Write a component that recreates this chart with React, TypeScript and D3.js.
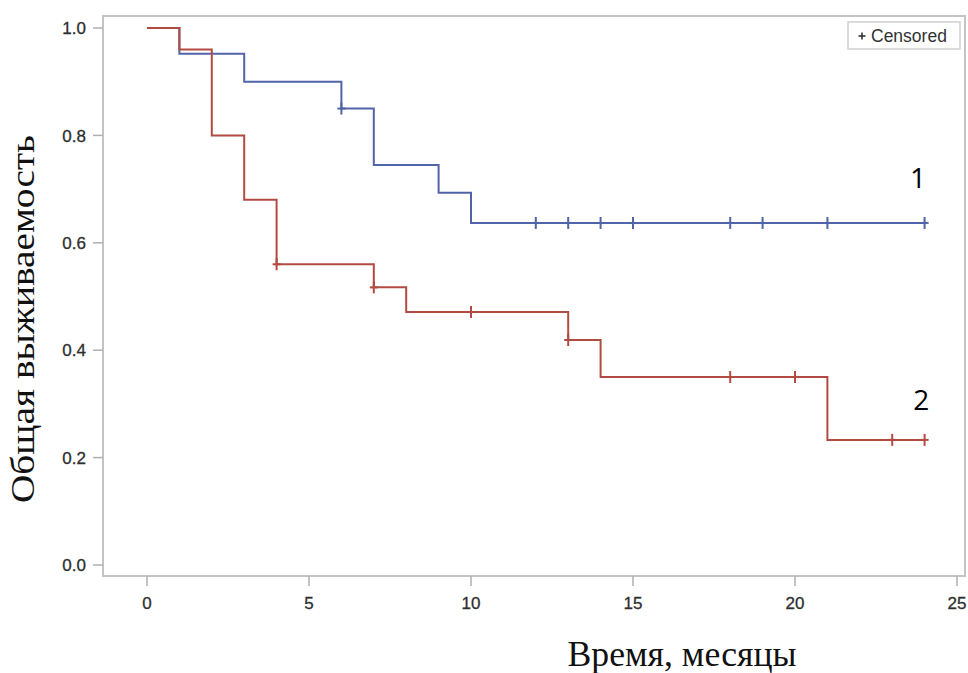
import React from 'react';
import * as d3 from 'd3';

// Kaplan-Meier step data
const blueTimes = [0, 1, 3, 6, 7, 9, 10, 24];
const blueSurv = [1, 0.952, 0.9, 0.85, 0.745, 0.693, 0.637, 0.637];
const blueCensored = [6, 12, 13, 14, 15, 18, 19, 21, 24];

const redTimes = [0, 1, 2, 3, 4, 7, 8, 13, 14, 21, 24];
const redSurv = [1, 0.96, 0.8, 0.68, 0.56, 0.517, 0.471, 0.419, 0.35, 0.233, 0.233];
const redCensored = [4, 7, 10, 13, 18, 20, 23, 24];

const xTicks = [0, 5, 10, 15, 20, 25];
const yTicks = [0, 0.2, 0.4, 0.6, 0.8, 1.0];

const groupLabels = [
  { text: '1', t: 23.8, s: 0.72 },
  { text: '2', t: 23.9, s: 0.307 },
];

const width = 968;
const height = 673;
const frame = { left: 103, top: 16, right: 965, bottom: 576 };

const BLUE = '#5264a8';
const RED = '#b24b42';

function survAt(times: number[], surv: number[], t: number) {
  let v = surv[0];
  times.forEach((tt, i) => {
    if (tt <= t) v = surv[i];
  });
  return v;
}

export default function App() {
  const x = d3.scaleLinear().domain([0, 25]).range([147, 957]);
  const y = d3.scaleLinear().domain([0, 1]).range([565, 28]);

  const line = d3
    .line<[number, number]>()
    .x((d) => x(d[0]))
    .y((d) => y(d[1]))
    .curve(d3.curveStepAfter);

  const series = [
    { times: blueTimes, surv: blueSurv, cens: blueCensored, color: BLUE },
    { times: redTimes, surv: redSurv, cens: redCensored, color: RED },
  ];

  const tickFont = '"Liberation Sans", Arial, sans-serif';
  const serif = '"Liberation Serif", "Times New Roman", serif';

  return (
    <div style={{ position: 'absolute', left: 0, top: 0 }}>
      <svg width={width} height={height} style={{ display: 'block', background: '#fff' }}>
        {/* frame */}
        <rect
          x={frame.left}
          y={frame.top}
          width={frame.right - frame.left}
          height={frame.bottom - frame.top}
          fill="none"
          stroke="#c4c4c4"
          strokeWidth={2}
        />

        {/* y axis */}
        {yTicks.map((v) => (
          <g key={'y' + v}>
            <line x1={frame.left - 10} x2={frame.left} y1={y(v)} y2={y(v)} stroke="#b0b0b0" strokeWidth={1.5} />
            <text
              x={frame.left - 17}
              y={y(v)}
              dy="0.36em"
              textAnchor="end"
              fontFamily={tickFont}
              fontSize={17}
              stroke="#2e2e2e"
              strokeWidth={0.3}
              fill="#2e2e2e"
            >
              {d3.format('.1f')(v)}
            </text>
          </g>
        ))}

        {/* x axis */}
        {xTicks.map((v) => (
          <g key={'x' + v}>
            <line x1={x(v)} x2={x(v)} y1={frame.bottom} y2={frame.bottom + 10} stroke="#b0b0b0" strokeWidth={1.5} />
            <text
              x={x(v)}
              y={603}
              dy="0.36em"
              textAnchor="middle"
              fontFamily={tickFont}
              fontSize={17}
              stroke="#2e2e2e"
              strokeWidth={0.3}
              fill="#2e2e2e"
            >
              {v}
            </text>
          </g>
        ))}

        {/* curves */}
        {series.map((s, i) => (
          <g key={'s' + i}>
            <path
              d={line(s.times.map((t, j) => [t, s.surv[j]] as [number, number])) || ''}
              fill="none"
              stroke={s.color}
              strokeWidth={2}
            />
            {s.cens.map((t) => {
              const cx = x(t);
              const cy = y(survAt(s.times, s.surv, t));
              return (
                <g key={'c' + t} stroke={s.color} strokeWidth={2}>
                  <line x1={cx} x2={cx} y1={cy - 6} y2={cy + 6} />
                  <line x1={cx - 4} x2={cx + 4} y1={cy} y2={cy} />
                </g>
              );
            })}
          </g>
        ))}

        {/* group labels */}
        {groupLabels.map((g) => (
          <text
            key={g.text}
            x={x(g.t)}
            y={y(g.s)}
            dy="0.35em"
            textAnchor="middle"
            fontFamily='"Open Sans", sans-serif'
            fontSize={28}
            fill="#000"
          >
            {g.text}
          </text>
        ))}

        {/* legend */}
        <rect x={848} y={22} width={112} height={27} fill="#fff" stroke="#d0d0d0" strokeWidth={1.5} />
        <g stroke="#333" strokeWidth={1.6}>
          <line x1={858.5} x2={865.5} y1={36} y2={36} />
          <line x1={862} x2={862} y1={32.5} y2={39.5} />
        </g>
        <text x={871} y={36} dy="0.36em" fontFamily={tickFont} fontSize={17.5} fill="#333">
          Censored
        </text>

        {/* axis titles */}
        <text
          x={682}
          y={666}
          textAnchor="middle"
          fontFamily={serif}
          fontSize={35}
          textLength={229}
          lengthAdjust="spacingAndGlyphs"
          fill="#111"
        >
          Время, месяцы
        </text>
        <text
          transform={`translate(34, 319) rotate(-90)`}
          textAnchor="middle"
          fontFamily={serif}
          fontSize={34}
          textLength={368}
          lengthAdjust="spacingAndGlyphs"
          fill="#111"
        >
          Общая выживаемость
        </text>
      </svg>
    </div>
  );
}
